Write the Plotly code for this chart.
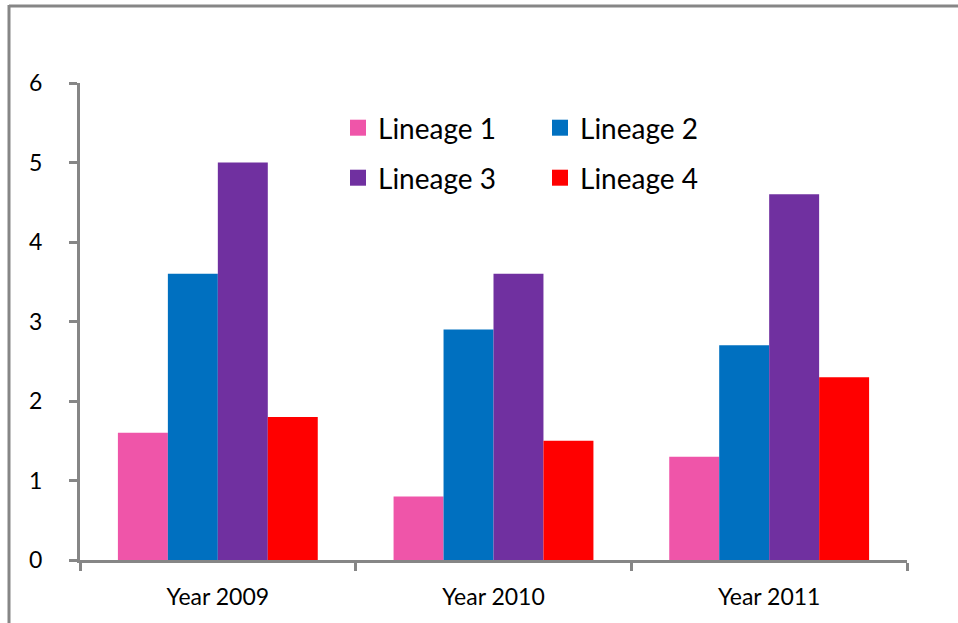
import plotly.graph_objects as go

categories = ["Year 2009", "Year 2010", "Year 2011"]
series_names = ["Lineage 1", "Lineage 2", "Lineage 3", "Lineage 4"]
lineage1 = [1.6, 0.8, 1.3]
lineage2 = [3.6, 2.9, 2.7]
lineage3 = [5.0, 3.6, 4.6]
lineage4 = [1.8, 1.5, 2.3]
colors = ["#EF55A9", "#0070C0", "#7030A0", "#FF0000"]

values = [lineage1, lineage2, lineage3, lineage4]
FONT = "Lato"

fig = go.Figure()
for name, vals, col in zip(series_names, values, colors):
    fig.add_trace(go.Bar(x=categories, y=vals, name=name, marker_color=col,
                         marker_line_width=0, showlegend=False))

# legend entries (two rows of two)
for i, (name, col) in enumerate(zip(series_names, colors)):
    fig.add_trace(go.Scatter(x=[None], y=[None], mode="markers", name=name,
                             marker=dict(symbol="square", size=16, color=col),
                             legend="legend" if i < 2 else "legend2"))

W, H = 958, 623
L, R, T, B = 80, 51, 83, 63
pw, ph = W - L - R, H - T - B

def px_x(p):
    return (p - L) / pw

def px_y(p):
    return (H - B - p) / ph

legend_common = dict(orientation="h", entrywidth=157, entrywidthmode="pixels",
                     font=dict(family=FONT, size=28, color="black"),
                     bgcolor="rgba(0,0,0,0)", itemwidth=30,
                     xanchor="left", yanchor="middle", tracegroupgap=0)

fig.update_layout(
    width=W, height=H,
    margin=dict(l=L, r=R, t=T, b=B),
    paper_bgcolor="white", plot_bgcolor="white",
    barmode="group", bargap=0.275, bargroupgap=0,
    font=dict(family=FONT, size=23, color="black"),
    legend=dict(x=px_x(338), y=px_y(128), **legend_common),
    legend2=dict(x=px_x(338), y=px_y(178), **legend_common),
    xaxis=dict(showline=True, linecolor="#868686", linewidth=3,
               ticks="outside", tickson="boundaries", ticklen=8, tickwidth=3,
               tickcolor="#868686", showgrid=False,
               tickfont=dict(family=FONT, size=23, color="black"),
               ticklabelstandoff=14),
    yaxis=dict(range=[0, 6], dtick=1, showline=True, linecolor="#868686",
               linewidth=3, ticks="outside", ticklen=8, tickwidth=3,
               tickcolor="#868686", showgrid=False, zeroline=False,
               tickfont=dict(family=FONT, size=23, color="black"),
               ticklabelstandoff=22),
    shapes=[
        dict(type="line", xref="paper", yref="paper",
             x0=px_x(9), x1=px_x(W + 10), y0=px_y(6), y1=px_y(6),
             line=dict(color="#868686", width=3)),
        dict(type="line", xref="paper", yref="paper",
             x0=px_x(9), x1=px_x(9), y0=px_y(5), y1=px_y(H + 10),
             line=dict(color="#868686", width=3)),
    ],
)

fig.write_html("out.html")
